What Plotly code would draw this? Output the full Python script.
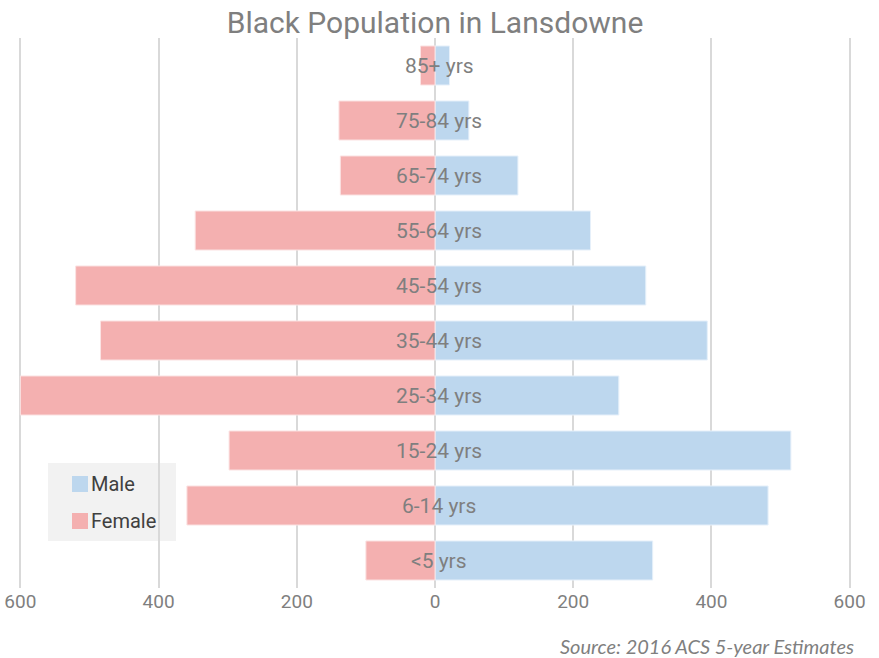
import plotly.graph_objects as go

# Age groups, top to bottom as shown
age_groups = ["85+ yrs", "75-84 yrs", "65-74 yrs", "55-64 yrs", "45-54 yrs",
              "35-44 yrs", "25-34 yrs", "15-24 yrs", "6-14 yrs", "<5 yrs"]
male = [21, 49, 120, 225, 305, 394, 266, 515, 482, 315]
female = [21, 139, 137, 347, 520, 484, 600, 298, 359, 100]

tick_vals = [-600, -400, -200, 0, 200, 400, 600]
tick_text = ["600", "400", "200", "0", "200", "400", "600"]

MALE_COLOR = "#bdd7ee"
FEMALE_COLOR = "#f4b0b0"
GRID = "#d9d9d9"
TEXT = "#7f7f7f"

W, H = 879, 658
M_L, M_R, M_T, M_B = 10, 19, 38, 70
PW, PH = W - M_L - M_R, H - M_T - M_B


def px_x(x):
    return (x - M_L) / PW


def px_y(y):
    return (H - M_B - y) / PH


fig = go.Figure()
fig.add_trace(go.Bar(
    y=age_groups, x=male, name="Male", orientation="h",
    marker=dict(color=MALE_COLOR, line=dict(color="#e6f0fa", width=1)),
))
fig.add_trace(go.Bar(
    y=age_groups, x=[-v for v in female], name="Female", orientation="h",
    marker=dict(color=FEMALE_COLOR, line=dict(color="#fbe3e3", width=1)),
))

# Age group labels sit over the centre line
for g in age_groups:
    fig.add_annotation(x=0, y=g, text=g, showarrow=False, xshift=4,
                       font=dict(family="Roboto", size=21, color=TEXT))

# Legend box drawn by hand: grey panel (under the gridlines) with two coloured squares
shapes = [dict(type="rect", xref="paper", yref="paper", layer="below",
               x0=px_x(48), x1=px_x(176), y0=px_y(541), y1=px_y(463),
               fillcolor="#f2f2f2", line=dict(width=0))]
for name, color, top in [("Male", MALE_COLOR, 476), ("Female", FEMALE_COLOR, 513)]:
    shapes.append(dict(type="rect", xref="paper", yref="paper", layer="above",
                       x0=px_x(72), x1=px_x(88), y0=px_y(top + 16), y1=px_y(top),
                       fillcolor=color, line=dict(width=0)))
    fig.add_annotation(x=px_x(89), y=px_y(top + 8), xref="paper", yref="paper",
                       xanchor="left", yanchor="middle", text=name, showarrow=False,
                       font=dict(family="Roboto", size=20, color="#404040"))

fig.add_annotation(
    x=px_x(856), y=px_y(646), xref="paper", yref="paper",
    xanchor="right", yanchor="middle",
    text="<i>Source: 2016 ACS 5-year Estimates</i>", showarrow=False,
    font=dict(family="Lato", size=20, color=TEXT),
)

fig.update_layout(
    width=W, height=H,
    paper_bgcolor="white", plot_bgcolor="rgba(0,0,0,0)",
    margin=dict(l=M_L, r=M_R, t=M_T, b=M_B),
    barmode="relative", bargap=0.29,
    shapes=shapes,
    title=dict(text="Black Population in Lansdowne", x=0.5, xanchor="center",
               xref="paper", y=0.966, yanchor="middle",
               font=dict(family="Roboto", size=30, color=TEXT)),
    xaxis=dict(range=[-615, 615], tickvals=tick_vals, ticktext=tick_text,
               automargin=False,
               showgrid=True, gridcolor=GRID, gridwidth=2, zeroline=True,
               zerolinecolor=GRID, zerolinewidth=2, showline=False, ticks="",
               tickfont=dict(family="Roboto", size=19, color=TEXT)),
    yaxis=dict(categoryorder="array", categoryarray=age_groups, autorange="reversed",
               automargin=False,
               showticklabels=False, showgrid=False, zeroline=False, ticks=""),
    showlegend=False,
)

fig.write_html("out.html")
